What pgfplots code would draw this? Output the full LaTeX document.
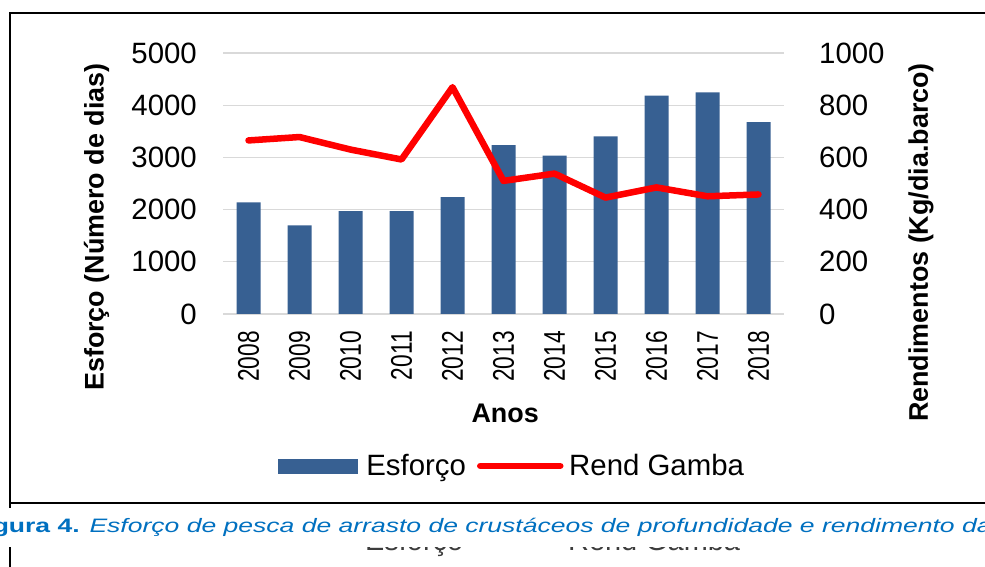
\documentclass[border=0pt]{standalone}
\usepackage{pgfplots}
\pgfplotsset{compat=1.18}
\usepackage{graphicx}
\usepackage{fontspec}
\setmainfont{Liberation Sans}

\definecolor{barblue}{RGB}{55,96,146}
\definecolor{capblue}{RGB}{0,112,192}
\definecolor{gridgray}{RGB}{217,217,217}
\definecolor{ghost}{RGB}{60,60,60}
\newcommand{\yr}[1]{\scalebox{0.76}[1]{#1}}

\begin{document}
\begin{tikzpicture}
\path[use as bounding box] (0bp,0bp) rectangle (985bp,567bp);
\clip (0bp,0bp) rectangle (985bp,567bp);
% frame
\draw[line width=1.6bp] (985bp,554bp) -- (10bp,554bp) -- (10bp,0bp);
\draw[line width=1.6bp] (10bp,64bp) -- (985bp,64bp);

\begin{axis}[
  at={(223bp,253bp)}, anchor=south west,
  scale only axis, width=561bp, height=261bp,
  xmin=-0.5, xmax=10.5, ymin=0, ymax=5000,
  ytick={0,1000,...,5000},
  xtick={0,...,10},
  xticklabels={\yr{2008},\yr{2009},\yr{2010},\yr{2011},\yr{2012},\yr{2013},\yr{2014},\yr{2015},\yr{2016},\yr{2017},\yr{2018}},
  axis y line*=left, axis x line*=bottom,
  y axis line style={draw=none},
  x axis line style={draw=gridgray, line width=2bp},
  major tick length=0pt,
  ymajorgrids, grid style={gridgray, line width=1.2bp},
  /pgf/number format/assume math mode=true,
  /pgf/number format/1000 sep={},
  yticklabel style={font=\fontsize{29.5}{30}\selectfont, inner sep=0pt, anchor=east, xshift=-26bp},
  xticklabel style={font=\fontsize{30}{31}\selectfont, inner sep=0pt, yshift=-17bp, rotate=90, anchor=east},
  every axis y label/.style={at={(axis description cs:-0.2255,0.333)}, rotate=90, anchor=center},
  every axis x label/.style={at={(axis description cs:0.503,-0.379)}, anchor=center},
  ylabel={Esforço (Número de dias)},
  xlabel={Anos},
  label style={font=\fontsize{27}{28}\selectfont\bfseries},
  ybar, bar width=24bp,
]
\addplot[fill=barblue, draw=none] coordinates {
  (0,2140) (1,1700) (2,1970) (3,1970) (4,2237) (5,3237)
  (6,3034) (7,3403) (8,4181) (9,4245) (10,3677)
};
\end{axis}

\begin{axis}[
  at={(223bp,253bp)}, anchor=south west,
  scale only axis, width=561bp, height=261bp,
  xmin=-0.5, xmax=10.5, ymin=0, ymax=1000,
  ytick={0,200,...,1000},
  axis y line*=right, axis x line=none,
  y axis line style={draw=none},
  major tick length=0pt,
  /pgf/number format/assume math mode=true,
  /pgf/number format/1000 sep={},
  yticklabel style={font=\fontsize{29.5}{30}\selectfont, inner sep=0pt, anchor=west, xshift=35bp},
  every axis y label/.style={at={(axis description cs:1.244,0.274)}, rotate=90, anchor=center},
  ylabel={Rendimentos (Kg/dia.barco)},
  label style={font=\fontsize{27}{28}\selectfont\bfseries},
  legend style={at={(axis description cs:0.098,-0.582)}, anchor=west, draw=none, fill=none,
    inner sep=0pt, font=\fontsize{29.5}{30}\selectfont,
    /tikz/every even column/.append style={column sep=9bp}},
  legend columns=2,
  legend cell align=left,
]
\addlegendimage{legend image code/.code={\fill[barblue] (0bp,-7bp) rectangle (79bp,7bp); \path[draw=none,fill=none] (0bp,0bp) -- (86bp,0bp);}}
\addlegendentry{Esforço}
\addlegendimage{legend image code/.code={\draw[red, line width=6.5bp, line cap=round] (3bp,0bp) -- (83bp,0bp); \path[draw=none,fill=none] (0bp,0bp) -- (90bp,0bp);}}
\addlegendentry{Rend Gamba}
\addplot[red, line width=6.5bp, line cap=round, line join=round] coordinates {
  (0,665) (1,678) (2,630) (3,592) (4,869) (5,510)
  (6,538) (7,446) (8,485) (9,451) (10,458)
};
\end{axis}

% ghost legend text (partly hidden behind the caption)
\node[anchor=base west, inner sep=0pt, text=ghost, font=\fontsize{29}{30}\selectfont] at (365bp,17bp) {Esforço};
\node[anchor=base west, inner sep=0pt, text=ghost, font=\fontsize{29}{30}\selectfont] at (568bp,17bp) {Rend Gamba};
\fill[white] (0bp,20bp) rectangle (985bp,59bp);
% caption
\node[anchor=base west, inner sep=0pt, text=capblue] at (-31bp,35bp)
  {\scalebox{1.365}[1]{\fontsize{19.5}{20}\selectfont\textbf{Figura 4.} \textit{Esforço de pesca de arrasto de crustáceos de profundidade e rendimento da gamba}}};
\end{tikzpicture}
\end{document}
